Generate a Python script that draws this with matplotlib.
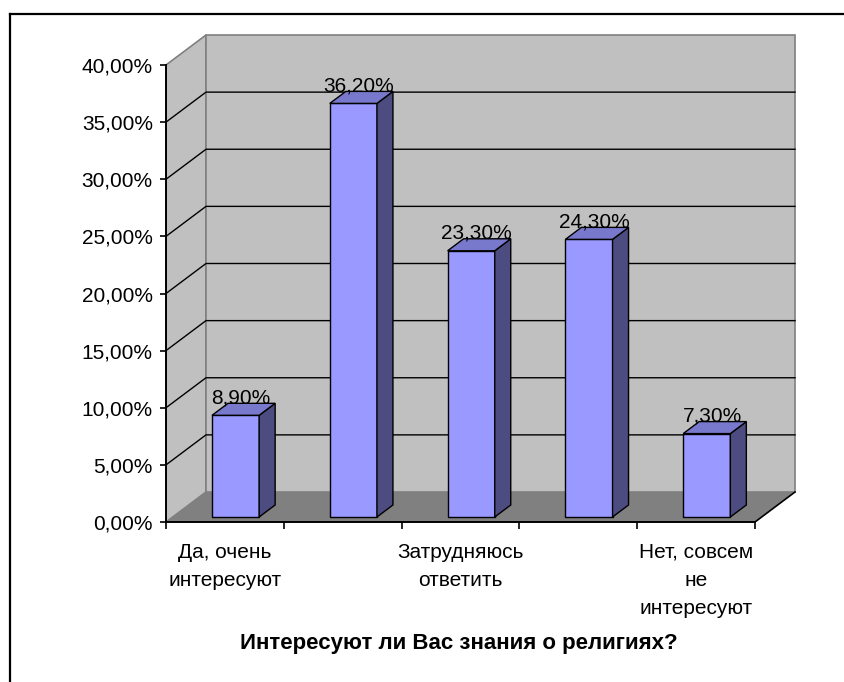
import matplotlib.pyplot as plt
from matplotlib.patches import Polygon
from matplotlib.lines import Line2D

# --- data ---
categories = ["Да, очень интересуют", "Скорее интересуют", "Затрудняюсь ответить",
              "Скорее не интересуют", "Нет, совсем не интересуют"]
shown_labels = ["Да, очень\nинтересуют", "", "Затрудняюсь\nответить", "", "Нет, совсем\nне\nинтересуют"]
values = [8.9, 36.2, 23.3, 24.3, 7.3]
y_ticks = [0, 5, 10, 15, 20, 25, 30, 35, 40]
title = "Интересуют ли Вас знания о религиях?"

plt.rcParams['font.family'] = ['Liberation Sans', 'DejaVu Sans']
FS = 15

W, H = 844, 682
fig = plt.figure(figsize=(W / 100, H / 100), dpi=100)

# pixel scale of the front plane
px_x, px_y = 117.8, 11.425
x0_px, y0_px = 166, 522
xmax, ymax = 5.5, 44
ax = fig.add_axes([x0_px / W, (H - y0_px) / H, xmax * px_x / W, ymax * px_y / H])
ax.set_xlim(0, xmax)
ax.set_ylim(0, ymax)
ax.patch.set_visible(False)

# depth offset of the floor (data units)
DX, DY = 40 / px_x, 30 / px_y
n = len(values)
top = max(y_ticks)

wall_c, floor_c, edge_c = "#c0c0c0", "#808080", "#808080"
# left wall
ax.add_patch(Polygon([(0, 0), (0, top), (DX, top + DY), (DX, DY)],
                     facecolor=wall_c, edgecolor=edge_c, lw=1.2, zorder=0.5))
# back wall
ax.add_patch(Polygon([(DX, DY), (DX, top + DY), (n + DX, top + DY), (n + DX, DY)],
                     facecolor=wall_c, edgecolor=edge_c, lw=1.2, zorder=0.5))
# floor
ax.add_patch(Polygon([(0, 0), (n, 0), (n + DX, DY), (DX, DY)],
                     facecolor=floor_c, edgecolor="none", zorder=0.6))
ax.plot([n, n + DX], [0, DY], color="black", lw=1.2, zorder=0.7)

# gridlines on walls
for t in y_ticks[1:-1]:
    ax.plot([0, DX, n + DX], [t, t + DY, t + DY], color="black", lw=1.0, zorder=0.8)

# bars
d_front, d_back = 0.167, 0.567
bw = 0.4
front_c, side_c, top_c = "#9999ff", "#4c4c80", "#7878cc"
for i, v in enumerate(values):
    xl = i + 0.334 + d_front * DX
    yb = d_front * DY
    ddx = (d_back - d_front) * DX
    ddy = (d_back - d_front) * DY
    ax.bar(xl, v, width=bw, bottom=yb, align="edge", color=front_c,
           edgecolor="black", lw=1.0, zorder=3)
    ax.add_patch(Polygon([(xl + bw, yb), (xl + bw, yb + v), (xl + bw + ddx, yb + v + ddy),
                          (xl + bw + ddx, yb + ddy)],
                         facecolor=side_c, edgecolor="black", lw=1.0, zorder=3))
    ax.add_patch(Polygon([(xl, yb + v), (xl + bw, yb + v), (xl + bw + ddx, yb + v + ddy),
                          (xl + ddx, yb + v + ddy)],
                         facecolor=top_c, edgecolor="black", lw=1.0, zorder=3))
    ax.text(xl + bw / 2 + ddx / 2 - 0.02, v + d_back * DY, f"{v:.2f}%".replace(".", ","),
            ha="center", va="baseline", fontsize=FS, zorder=4)

# axes lines and ticks
for s in ["top", "right"]:
    ax.spines[s].set_visible(False)
ax.spines["left"].set_bounds(0, top)
ax.spines["bottom"].set_bounds(0, n)
for s in ["left", "bottom"]:
    ax.spines[s].set_linewidth(1.4)
    ax.spines[s].set_zorder(2.5)

ax.set_yticks(y_ticks, [f"{t:.2f}%".replace(".", ",") for t in y_ticks])
ax.tick_params(axis="y", length=4.5, width=1.2, pad=5, labelsize=FS)
ax.set_xticks(range(n + 1), [""] * (n + 1))
ax.tick_params(axis="x", which="major", length=5, width=1.2)
ax.set_xticks([i + 0.5 for i in range(n)], shown_labels, minor=True)
ax.tick_params(axis="x", which="minor", length=0, pad=15, labelsize=FS)
for lab in ax.get_xticklabels(minor=True):
    lab.set_linespacing(1.6)

fig.text(459 / W, 1 - 649 / H, title, ha="center", va="baseline",
         fontsize=16, fontweight="bold")

# outer border (top and left)
fig.add_artist(Line2D([10 / W, 1], [1 - 14 / H, 1 - 14 / H], color="black", lw=1.6,
                      transform=fig.transFigure))
fig.add_artist(Line2D([10 / W, 10 / W], [0, 1 - 14 / H], color="black", lw=1.6,
                      transform=fig.transFigure))

fig.savefig("out.png", dpi=100, facecolor="white")
